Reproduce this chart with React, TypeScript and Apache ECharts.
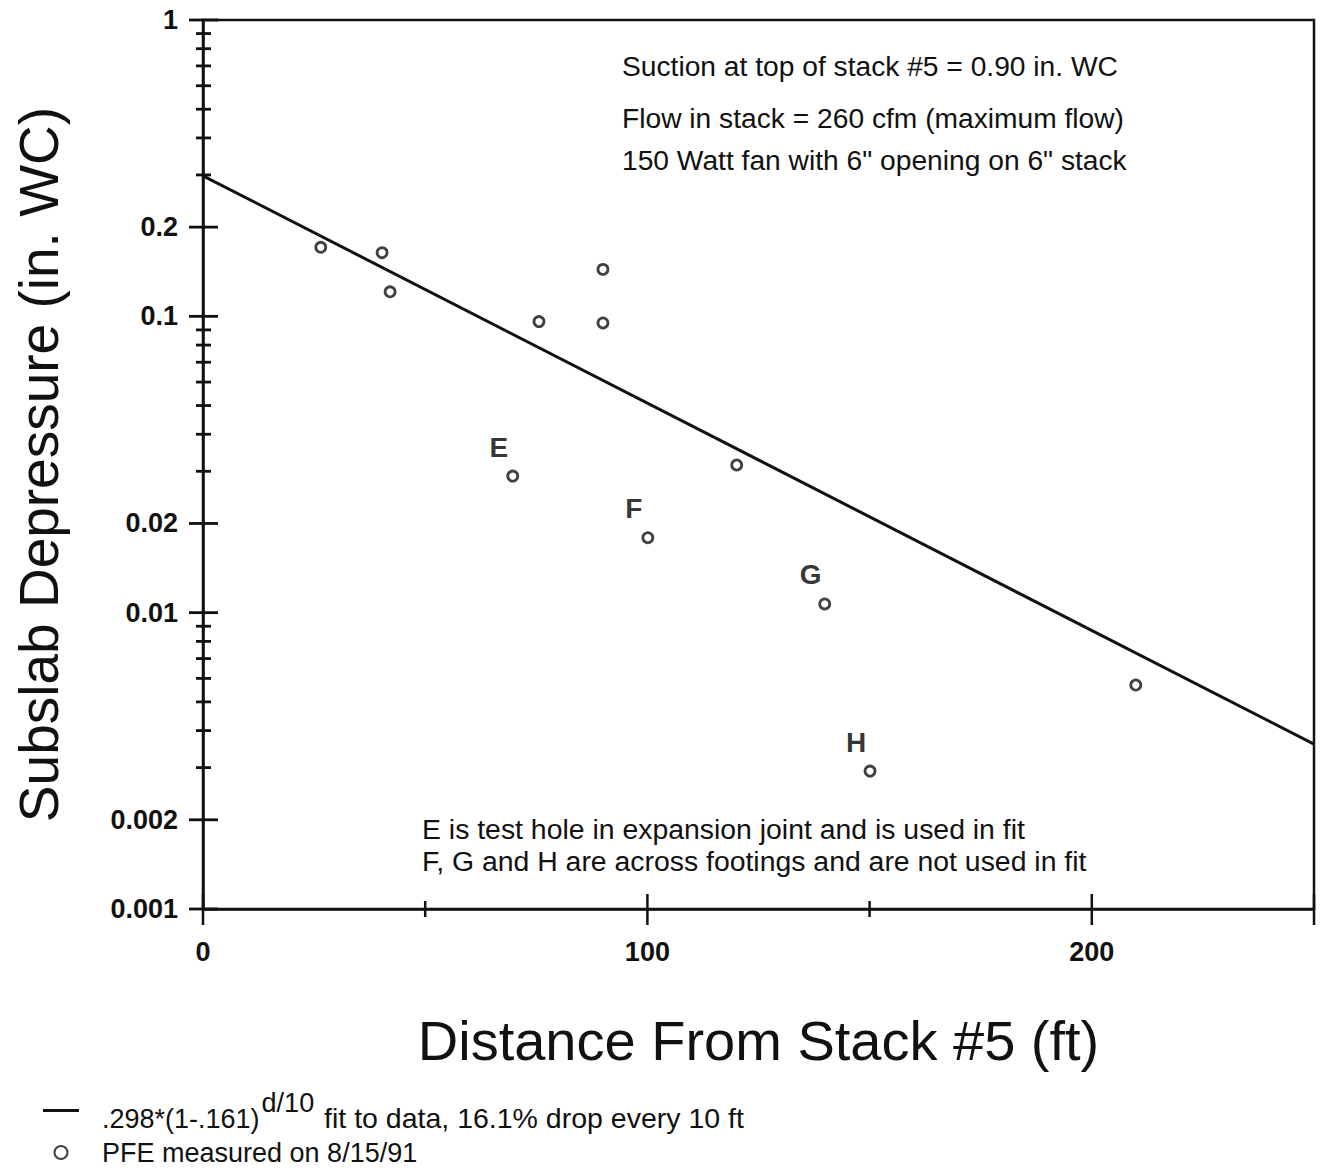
import React, { useEffect, useRef } from "react";
import * as echarts from "echarts";

// ---- data ----
const pointX = [26.5, 40.3, 42.1, 75.6, 90.0, 90.0, 69.7, 120.1, 100.1, 139.9, 209.9, 150.1];
const pointY = [0.171, 0.164, 0.121, 0.096, 0.144, 0.095, 0.0289, 0.0315, 0.0179, 0.0107, 0.0057, 0.00292];
const pointTag = ["", "", "", "", "", "", "E", "", "F", "G", "", "H"];

const fitX = [0, 250];
const fitY = [0.298, 0.0036];

const xLabels = [0, 100, 200];
const xTicksMajor = [0, 100, 200, 250];
const xTicksMinor = [50, 150];
const yLabels = [1, 0.2, 0.1, 0.02, 0.01, 0.002, 0.001];
const yTicksMajor = [1, 0.2, 0.1, 0.02, 0.01, 0.002, 0.001];
const yTicksMinor = [
  0.9, 0.8, 0.7, 0.6, 0.5, 0.4, 0.3,
  0.09, 0.08, 0.07, 0.06, 0.05, 0.04, 0.03,
  0.009, 0.008, 0.007, 0.006, 0.005, 0.004, 0.003,
];

const notesTop = [
  "Suction at top of stack #5 = 0.90 in. WC",
  "Flow in stack = 260 cfm (maximum flow)",
  "150 Watt fan with 6\" opening on 6\" stack",
];
const notesBottom = [
  "E is test hole in expansion joint and is used in fit",
  "F, G and H are across footings and are not used in fit",
];

const fitName = ".298*(1-.161)^d/10 fit to data, 16.1% drop every 10 ft";
const pointName = "PFE measured on 8/15/91";
const xTitle = "Distance From Stack #5 (ft)";
const yTitle = "Subslab Depressure (in. WC)";

const FONT = "'Liberation Sans', Arial, Helvetica, sans-serif";
const INK = "#111";

export default function App() {
  const ref = useRef<HTMLDivElement>(null);
  useEffect(() => {
    if (!ref.current) return;
    const chart = echarts.init(ref.current, undefined, { renderer: "svg" });

    const yTickData = [
      ...yTicksMajor.map((v) => [0, v, 1]),
      ...yTicksMinor.map((v) => [0, v, 0]),
    ];
    const xTickData = [
      ...xTicksMajor.map((v) => [v, 0.001, 1]),
      ...xTicksMinor.map((v) => [v, 0.001, 0]),
    ];

    const option: any = {
      animation: false,
      backgroundColor: "#fff",
      textStyle: { fontFamily: FONT, color: INK },
      grid: {
        left: 203,
        top: 20,
        width: 1111,
        height: 889,
        show: true,
        borderColor: INK,
        borderWidth: 2.5,
        containLabel: false,
      },
      xAxis: {
        type: "value",
        min: 0,
        max: 250,
        name: xTitle,
        nameLocation: "middle",
        nameGap: 103,
        nameTextStyle: { fontSize: 56, color: INK, fontFamily: FONT },
        axisLine: { show: true, lineStyle: { color: INK, width: 2.5 } },
        axisTick: { show: false },
        splitLine: { show: false },
        axisLabel: {
          customValues: xLabels,
          margin: 29,
          fontSize: 27,
          fontWeight: "bold",
          color: INK,
          fontFamily: FONT,
          formatter: (v: number) => String(v),
        },
      },
      yAxis: {
        type: "log",
        logBase: 10,
        min: 0.001,
        max: 1,
        name: yTitle,
        nameLocation: "middle",
        nameRotate: 90,
        nameGap: 137,
        nameTextStyle: { fontSize: 55, color: INK, fontFamily: FONT },
        axisLine: { show: true, lineStyle: { color: INK, width: 2.5 } },
        axisTick: { show: false },
        splitLine: { show: false },
        minorTick: { show: false },
        axisLabel: {
          customValues: yLabels,
          margin: 25,
          fontSize: 27,
          fontWeight: "bold",
          color: INK,
          fontFamily: FONT,
          formatter: (v: number) => String(v),
        },
      },
      legend: {
        left: 38,
        top: 1084,
        orient: "vertical",
        itemWidth: 36,
        itemHeight: 13,
        itemGap: 7,
        data: [
          { name: fitName, icon: "path://M0,0H36V2.8H0Z", itemStyle: { color: INK } },
          { name: pointName },
        ],
        formatter: (name: string) =>
          name === fitName
            ? "{p|.298*(1-.161)}{s|d/10}{a| fit to data, 16.1% drop every 10 ft}"
            : "{p|" + name + "}",
        textStyle: {
          fontFamily: FONT,
          color: INK,
          fontSize: 27,
          rich: {
            p: { fontSize: 27, fontFamily: FONT, color: INK, padding: [0, 0, 0, 18], verticalAlign: "bottom" },
            a: { fontSize: 28.5, fontFamily: FONT, color: INK, verticalAlign: "bottom" },
            s: { fontSize: 27, fontFamily: FONT, color: INK, padding: [0, 2, 16, 2], verticalAlign: "bottom" },
          },
        },
      },
      series: [
        {
          name: fitName,
          type: "line",
          data: fitX.map((x, i) => [x, fitY[i]]),
          symbol: "none",
          lineStyle: { color: INK, width: 3 },
          itemStyle: { color: INK },
          z: 3,
        },
        {
          name: pointName,
          type: "scatter",
          data: pointX.map((x, i) => ({
            value: [x, pointY[i]],
            label: {
              show: pointTag[i] !== "",
              formatter: pointTag[i],
            },
          })),
          symbol: "circle",
          symbolSize: 10,
          itemStyle: { color: "#fff", borderColor: INK, borderWidth: 2.8 },
          label: {
            position: "inside",
            offset: [-14, -29],
            fontSize: 28,
            fontWeight: "bold",
            color: "#000",
            fontFamily: FONT,
          },
          z: 4,
        },
        {
          type: "custom",
          clip: false,
          silent: true,
          data: yTickData,
          renderItem: (params: any, api: any) => {
            const p = api.coord([api.value(0), api.value(1)]);
            const major = api.value(2) === 1;
            return {
              type: "line",
              shape: {
                x1: p[0] - (major ? 14 : 7),
                y1: p[1],
                x2: p[0] + (major ? 15 : 8),
                y2: p[1],
              },
              style: { stroke: INK, lineWidth: 2.8 },
            };
          },
          z: 5,
        },
        {
          type: "custom",
          clip: false,
          silent: true,
          data: xTickData,
          renderItem: (params: any, api: any) => {
            const p = api.coord([api.value(0), api.value(1)]);
            const major = api.value(2) === 1;
            return {
              type: "line",
              shape: {
                x1: p[0],
                y1: p[1] - (major ? 15 : 8),
                x2: p[0],
                y2: p[1] + (major ? 16 : 8),
              },
              style: { stroke: INK, lineWidth: 2.5 },
            };
          },
          z: 5,
        },
      ],
      graphic: [
        ...notesTop.map((t, i) => ({
          type: "text",
          x: 622,
          y: [66, 118, 160][i],
          style: { text: t, fontSize: 28.2, fontFamily: FONT, fill: INK, verticalAlign: "middle", align: "left" },
        })),
        ...notesBottom.map((t, i) => ({
          type: "text",
          x: 422,
          y: [829, 861][i],
          style: { text: t, fontSize: 28.4, fontFamily: FONT, fill: INK, verticalAlign: "middle", align: "left" },
        })),
      ],
    };

    chart.setOption(option);
    return () => chart.dispose();
  }, []);

  return (
    <div
      ref={ref}
      style={{ position: "absolute", left: 0, top: 0, width: 1320, height: 1171 }}
    />
  );
}
